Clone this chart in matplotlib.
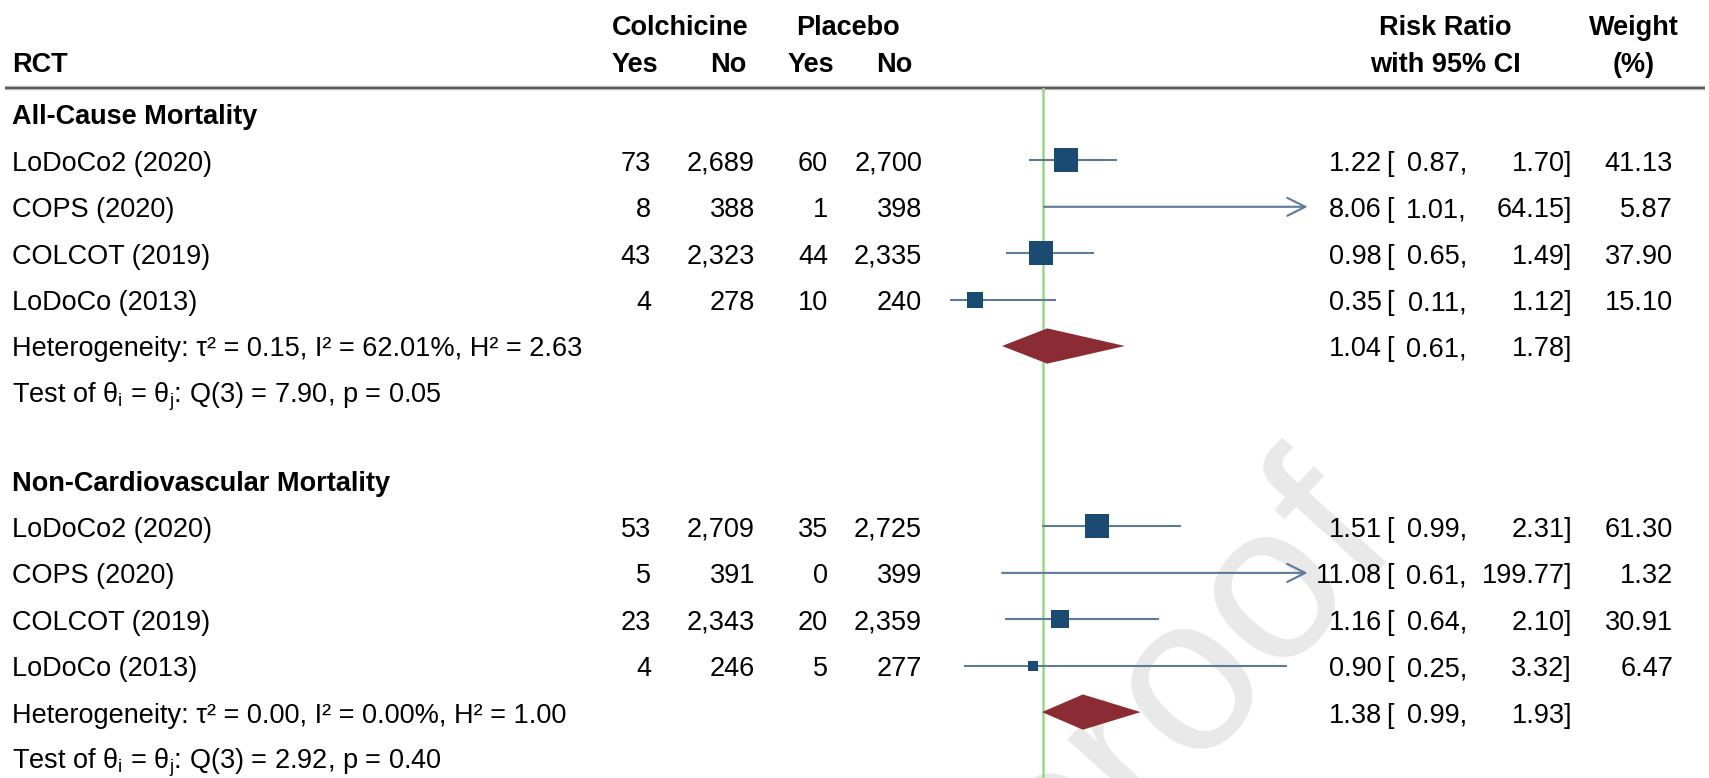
import numpy as np
import matplotlib.pyplot as plt

plt.rcParams.update({
    "font.family": "Liberation Sans",
    "mathtext.fontset": "custom",
    "mathtext.rm": "Liberation Sans",
    "mathtext.it": "Liberation Sans",
})

STUDIES = ["LoDoCo2 (2020)", "COPS (2020)", "COLCOT (2019)", "LoDoCo (2013)"]

# All-cause mortality
AC_COL_YES = [73, 8, 43, 4]
AC_COL_NO = [2689, 388, 2323, 278]
AC_PLA_YES = [60, 1, 44, 10]
AC_PLA_NO = [2700, 398, 2335, 240]
AC_RR = [1.22, 8.06, 0.98, 0.35]
AC_LO = [0.87, 1.01, 0.65, 0.11]
AC_HI = [1.70, 64.15, 1.49, 1.12]
AC_W = [41.13, 5.87, 37.90, 15.10]
AC_POOLED = (1.04, 0.61, 1.78)
AC_HET = "Heterogeneity: τ² = 0.15, I² = 62.01%, H² = 2.63"
AC_TEST = r"Test of θ$_{\mathrm{i}}$ = θ$_{\mathrm{j}}$: Q(3) = 7.90, p = 0.05"

# Non-cardiovascular mortality
NC_COL_YES = [53, 5, 23, 4]
NC_COL_NO = [2709, 391, 2343, 246]
NC_PLA_YES = [35, 0, 20, 5]
NC_PLA_NO = [2725, 399, 2359, 277]
NC_RR = [1.51, 11.08, 1.16, 0.90]
NC_LO = [0.99, 0.61, 0.64, 0.25]
NC_HI = [2.31, 199.77, 2.10, 3.32]
NC_W = [61.30, 1.32, 30.91, 6.47]
NC_POOLED = (1.38, 0.99, 1.93)
NC_HET = "Heterogeneity: τ² = 0.00, I² = 0.00%, H² = 1.00"
NC_TEST = r"Test of θ$_{\mathrm{i}}$ = θ$_{\mathrm{j}}$: Q(3) = 2.92, p = 0.40"

SECTIONS = [
    ("All-Cause Mortality", AC_COL_YES, AC_COL_NO, AC_PLA_YES, AC_PLA_NO,
     AC_RR, AC_LO, AC_HI, AC_W, AC_POOLED, AC_HET, AC_TEST),
    ("Non-Cardiovascular Mortality", NC_COL_YES, NC_COL_NO, NC_PLA_YES, NC_PLA_NO,
     NC_RR, NC_LO, NC_HI, NC_W, NC_POOLED, NC_HET, NC_TEST),
]

# layout (pixels of the 1709x778 canvas)
W, H = 1709, 778
ROW0, ROWH = 114, 46.4
SECTION_STEP = 7.89
HEAD_LINE = 88
XMAX = 3.52
FS = 19.5
BASE = 10.5 / ROWH      # baseline offset below the row centre
SQ = "#1b4a73"
CI = "#5d7b99"
DIA = "#8b2c35"
NULL = "#9ad68a"


def row(px):
    return (px - ROW0) / ROWH


fig = plt.figure(figsize=(W / 100, H / 100), dpi=100)
ax = fig.add_axes([0, 0, 1, 1])
ax.set_xlim(0, W); ax.set_ylim(row(H), row(0)); ax.axis("off")

axf = fig.add_axes([938 / W, 0, 105 * XMAX / W, (H - HEAD_LINE) / H])
axf.set_xlim(0, XMAX); axf.set_ylim(row(H), row(HEAD_LINE)); axf.axis("off")
axf.axvline(1, color=NULL, lw=1.8, zorder=1)

# watermark
ax.text(1058, row(910), "proof", rotation=48, rotation_mode="anchor", ha="left",
        va="baseline", fontsize=160, color="#e9e9e9", zorder=0)


def put(x, r, s, ha, bold=False):
    ax.text(x, r + BASE, s, ha=ha, va="baseline", fontsize=FS,
            fontweight="bold" if bold else "normal", zorder=3)


# header
put(12, row(62), "RCT", "left", True)
put(680, row(25), "Colchicine", "center", True)
put(848, row(25), "Placebo", "center", True)
for x, s in [(658, "Yes"), (746, "No"), (834, "Yes"), (912, "No")]:
    put(x, row(62), s, "right", True)
put(1445, row(25), "Risk Ratio", "center", True)
put(1445, row(62), "with 95% CI", "center", True)
put(1634, row(25), "Weight", "center", True)
put(1634, row(62), "(%)", "center", True)
ax.plot([5, 1705], [row(HEAD_LINE)] * 2, color="#b8b8b8", lw=3.2, solid_capstyle="butt")
ax.plot([5, 1705], [row(HEAD_LINE)] * 2, color="#505050", lw=1.3, solid_capstyle="butt")


def ci_text(r, est, lo, hi):
    put(1382, r, f"{est:.2f}", "right")
    put(1386, r, "[", "left")
    put(1467, r, f"{lo:.2f},", "right")
    put(1572, r, f"{hi:.2f}]", "right")


r0 = 0
for (title, cy, cn, py, pn, rr, lo, hi, w, pooled, het, test) in SECTIONS:
    put(12, r0, title, "left", True)
    rows = r0 + 1 + np.arange(len(STUDIES))
    wmax = max(w)
    for i, r in enumerate(rows):
        put(12, r, STUDIES[i], "left")
        put(651, r, f"{cy[i]:,}", "right")
        put(755, r, f"{cn[i]:,}", "right")
        put(828, r, f"{py[i]:,}", "right")
        put(922, r, f"{pn[i]:,}", "right")
        ci_text(r, rr[i], lo[i], hi[i])
        put(1673, r, f"{w[i]:.2f}", "right")
        if hi[i] > XMAX:
            axf.annotate("", xy=(XMAX, r), xytext=(lo[i], r),
                         arrowprops=dict(arrowstyle="->,head_length=1.3,head_width=0.65",
                                         color=CI, lw=1.5, shrinkA=0, shrinkB=0))
        else:
            axf.hlines(r, lo[i], hi[i], color=CI, lw=1.5, zorder=2)
        side = (4 + 20 * np.sqrt(w[i] / wmax)) * 0.72
        axf.scatter([rr[i]], [r], marker="s", s=side ** 2, color=SQ, zorder=3, lw=0)
    est, plo, phi = pooled
    rh = r0 + 5
    axf.fill([plo, est, phi, est], [rh, rh - 0.38, rh, rh + 0.38], color=DIA, lw=0, zorder=3)
    put(12, rh, het, "left")
    ci_text(rh, est, plo, phi)
    put(12, rh + 1, test, "left")
    r0 += SECTION_STEP

fig.savefig("out.png", dpi=100)
